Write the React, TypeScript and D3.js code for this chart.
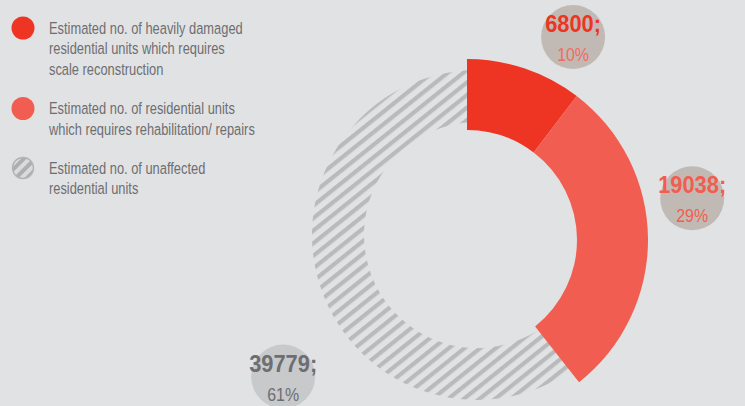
import * as d3 from 'd3'

const categories = ['heavy', 'repair', 'unaffected']
const values = [6800, 19038, 39779]
const percentLabels = ['10%', '29%', '61%']
const legendLines = [
  ['Estimated no. of heavily damaged', 'residential units which requires', 'scale reconstruction'],
  ['Estimated no. of residential units', 'which requires rehabilitation/ repairs'],
  ['Estimated no. of unaffected', 'residential units'],
]

const width = 745
const height = 406
const bg = '#e1e2e4'
const textGray = '#6d6e71'
const sliceColors = ['#ee3524', '#f15d50', 'url(#hatch)']
const numberColors = ['#ee3524', '#f15d50', textGray]
const pctColors = ['#f26b5e', '#f15d50', textGray]
const bubbleColors = ['#c1bab4', '#c1bab4', '#c8c9cb']
// label bubbles placed around the donut (deg from 12 o'clock, distance)
const labelAngles = [27.6, 79.5, 233.4]
const labelDist = 229

// no condensed font installed, so squeeze Liberation Sans horizontally
const font = '"Liberation Sans", Arial, sans-serif'
const squeeze = 0.78

export default function App() {
  const pie = d3
    .pie<number>()
    .sort(null)
    .value((d) => d)
  const arcs = pie(values)

  // red slices and hatched slice do not share the same ring
  const redCenter = { x: 467, y: 240 }
  const redArc = d3.arc<d3.PieArcDatum<number>>().innerRadius(110).outerRadius(181)
  const greyCenter = { x: 477, y: 235 }
  const greyArc = d3.arc<d3.PieArcDatum<number>>().innerRadius(113).outerRadius(165)

  const legendX = 23
  const lineH = 21
  const gap = 17.5
  let yCursor = 28
  const legendItems = legendLines.map((lines, i) => {
    const y = yCursor
    yCursor += lines.length * lineH + gap
    return { lines, y, i }
  })

  return (
    <svg
      width={width}
      height={height}
      style={{ position: 'fixed', left: 0, top: 0 }}
      fontFamily={font}
    >
      <defs>
        <pattern
          id="hatch"
          patternUnits="userSpaceOnUse"
          width={9.8}
          height={9.8}
          patternTransform="rotate(51.3)"
        >
          <rect width={9.8} height={9.8} fill={bg} />
          <rect width={4.2} height={9.8} fill="#b9babc" />
        </pattern>
        <pattern
          id="hatchIcon"
          patternUnits="userSpaceOnUse"
          width={8}
          height={8}
          patternTransform="rotate(45)"
        >
          <rect width={8} height={8} fill="#dadbdd" />
          <rect width={4} height={8} fill="#aeafb1" />
        </pattern>
      </defs>
      <rect width={width} height={height} fill={bg} />

      <g transform={`translate(${greyCenter.x},${greyCenter.y})`}>
        {arcs
          .filter((a) => categories[a.index] === 'unaffected')
          .map((a) => (
            <path key={a.index} d={greyArc(a)!} fill={sliceColors[a.index]} />
          ))}
      </g>
      <g transform={`translate(${redCenter.x},${redCenter.y})`}>
        {arcs
          .filter((a) => categories[a.index] !== 'unaffected')
          .map((a) => (
            <path key={a.index} d={redArc(a)!} fill={sliceColors[a.index]} />
          ))}
      </g>

      {values.map((v, i) => {
        const ang = (labelAngles[i] * Math.PI) / 180
        const cx = redCenter.x + labelDist * Math.sin(ang)
        const cy = redCenter.y - labelDist * Math.cos(ang)
        return (
          <g key={categories[i]} transform={`translate(${cx},${cy})`} textAnchor="middle">
            <circle r={32} fill={bubbleColors[i]} />
            <g transform="scale(0.93,1)">
              <text y={-5} fontSize={23.5} fontWeight="bold" fill={numberColors[i]}>
                {`${v};`}
              </text>
            </g>
            <g transform="scale(0.84,1)">
              <text y={24} fontSize={19} fill={pctColors[i]}>
                {percentLabels[i]}
              </text>
            </g>
          </g>
        )
      })}

      {legendItems.map(({ lines, y, i }) => (
        <g key={categories[i]} transform={`translate(${legendX},${y})`}>
          {i < 2 ? (
            <circle r={11.5} fill={sliceColors[i]} />
          ) : (
            <circle r={10.5} fill="url(#hatchIcon)" stroke="#b3b4b6" strokeWidth={1.4} />
          )}
          <g transform={`translate(26,0) scale(${squeeze},1)`}>
            {lines.map((l, j) => (
              <text key={j} y={5.5 + j * lineH} fontSize={16.5} fill={textGray}>
                {l}
              </text>
            ))}
          </g>
        </g>
      ))}
    </svg>
  )
}
